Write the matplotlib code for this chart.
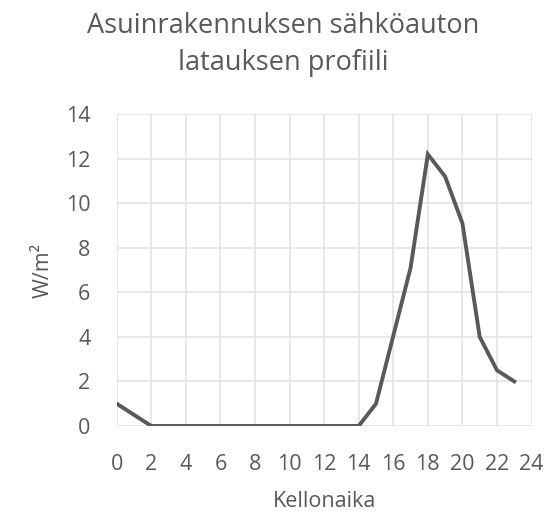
import matplotlib
matplotlib.use("Agg")
import matplotlib.pyplot as plt

# hourly charging profile, W/m2
hours = list(range(24))
power = [1.0, 0.5, 0, 0, 0, 0, 0, 0, 0, 0, 0, 0, 0, 0, 0,
         1.0, 4.05, 7.1, 12.2, 11.2, 9.1, 4.0, 2.5, 2.0]

x_ticks = list(range(0, 25, 2))
y_ticks = list(range(0, 15, 2))

title = "Asuinrakennuksen sähköauton\nlatauksen profiili"
x_label = "Kellonaika"
y_label = "W/m²"

plt.rcParams["font.family"] = ["Open Sans", "DejaVu Sans"]
grey = "#595959"

fig = plt.figure(figsize=(5.48, 5.12), dpi=100)
ax = fig.add_axes([0.213, 0.168, 0.757, 0.609])

ax.plot(hours, power, color=grey, lw=2.8, solid_joinstyle="miter", zorder=3)

ax.set_xlim(0, 24)
ax.set_ylim(0, 14)
ax.set_xticks(x_ticks)
ax.set_yticks(y_ticks)
ax.grid(True, color="#E3E3E3", lw=1.2)
ax.set_axisbelow(True)
for s in ax.spines.values():
    s.set_visible(False)
ax.tick_params(length=0, labelsize=15.5, colors=grey)
ax.tick_params(axis="x", pad=20.5)
ax.tick_params(axis="y", pad=19)

ax.set_xlabel(x_label, fontsize=15.5, color=grey)
ax.xaxis.set_label_coords(0.5, -0.21)
ax.set_ylabel(y_label, fontsize=15.5, color=grey)
ax.yaxis.set_label_coords(-0.153, 0.5)

fig.text(0.517, 0.977, title, ha="center", va="top", fontsize=19.5,
         color=grey, linespacing=1.45)

fig.savefig("out.png", dpi=100)
